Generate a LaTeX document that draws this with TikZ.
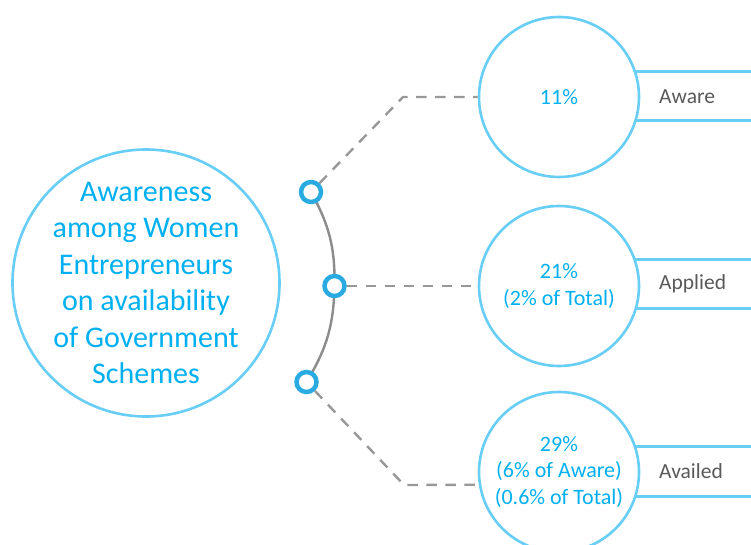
\documentclass[tikz,border=0pt]{standalone}
\usepackage{fontspec}
\setmainfont{Carlito}
\definecolor{circblue}{RGB}{104,206,245}
\definecolor{ringblue}{RGB}{41,171,226}
\definecolor{txtblue}{RGB}{0,176,240}
\definecolor{arcgray}{RGB}{140,140,140}
\definecolor{dashgray}{RGB}{152,152,152}
\definecolor{lblgray}{RGB}{89,89,89}
\tikzset{
  bigcirc/.style={circle, draw=circblue, line width=2.6pt, fill=white, minimum size=267pt, inner sep=0pt},
  bigtext/.style={align=center, text=txtblue, inner sep=0pt, font=\fontsize{30}{36.5}\selectfont},
  smallcirc/.style={circle, draw=circblue, line width=2.6pt, fill=white, minimum size=160pt, inner sep=0pt, align=center, text=txtblue, font=\fontsize{22}{26.5}\selectfont},
  ring/.style={circle, draw=ringblue, line width=4.5pt, fill=white, minimum size=20pt, inner sep=0pt},
  band/.style={draw=circblue, line width=2.8pt},
  lbl/.style={anchor=west, text=lblgray, font=\fontsize{21.5}{26}\selectfont, inner sep=0pt},
  conn/.style={draw=dashgray, line width=2.4pt, dash pattern=on 10.5pt off 8.5pt},
  arcline/.style={draw=arcgray, line width=2.4pt}
}
\begin{document}
\begin{tikzpicture}[x=1pt,y=-1pt]
\clip (0,0) rectangle (751,545);
\fill[white] (0,0) rectangle (751,545);
% bands
\draw[band] (559,71.5) rectangle (790,120.5);
\draw[band] (559,259.5) rectangle (790,308.5);
\draw[band] (559,446.5) rectangle (790,496.5);
% circles
\node[bigcirc] (main) at (146,283) {};
\node[bigtext] (maintxt) at (main.center) {Awareness\\among Women\\Entrepreneurs\\on availability\\of Government\\Schemes};
\node[smallcirc] (c1) at (559,97) {11\%};
\node[smallcirc] (c2) at (559,286) {21\%\\(2\% of Total)};
\node[smallcirc] (c3) at (559,472) {29\%\\(6\% of Aware)\\(0.6\% of Total)};
% labels
\node[lbl] (l1) at (659,97) {Aware};
\node[lbl] (l2) at (659,284) {Applied};
\node[lbl] (l3) at (659,471) {Availed};
% ring points
\coordinate (r1p) at (311,192);
\coordinate (r2p) at (334.5,286);
\coordinate (r3p) at (306.5,382);
\draw[arcline] (r1p) to[bend left=15] (r2p) to[bend left=15] (r3p);
\node[ring] (r1) at (r1p) {};
\node[ring] (r2) at (r2p) {};
\node[ring] (r3) at (r3p) {};
% dashed connectors
\coordinate (b1) at (403,97);
\coordinate (b3) at (404,485);
\draw[conn] (r1) -- (b1) -- (c1.west);
\draw[conn] (r2) -- (c2.west);
\draw[conn] (r3) -- (b3) -- (c3.189);
\end{tikzpicture}
\end{document}
